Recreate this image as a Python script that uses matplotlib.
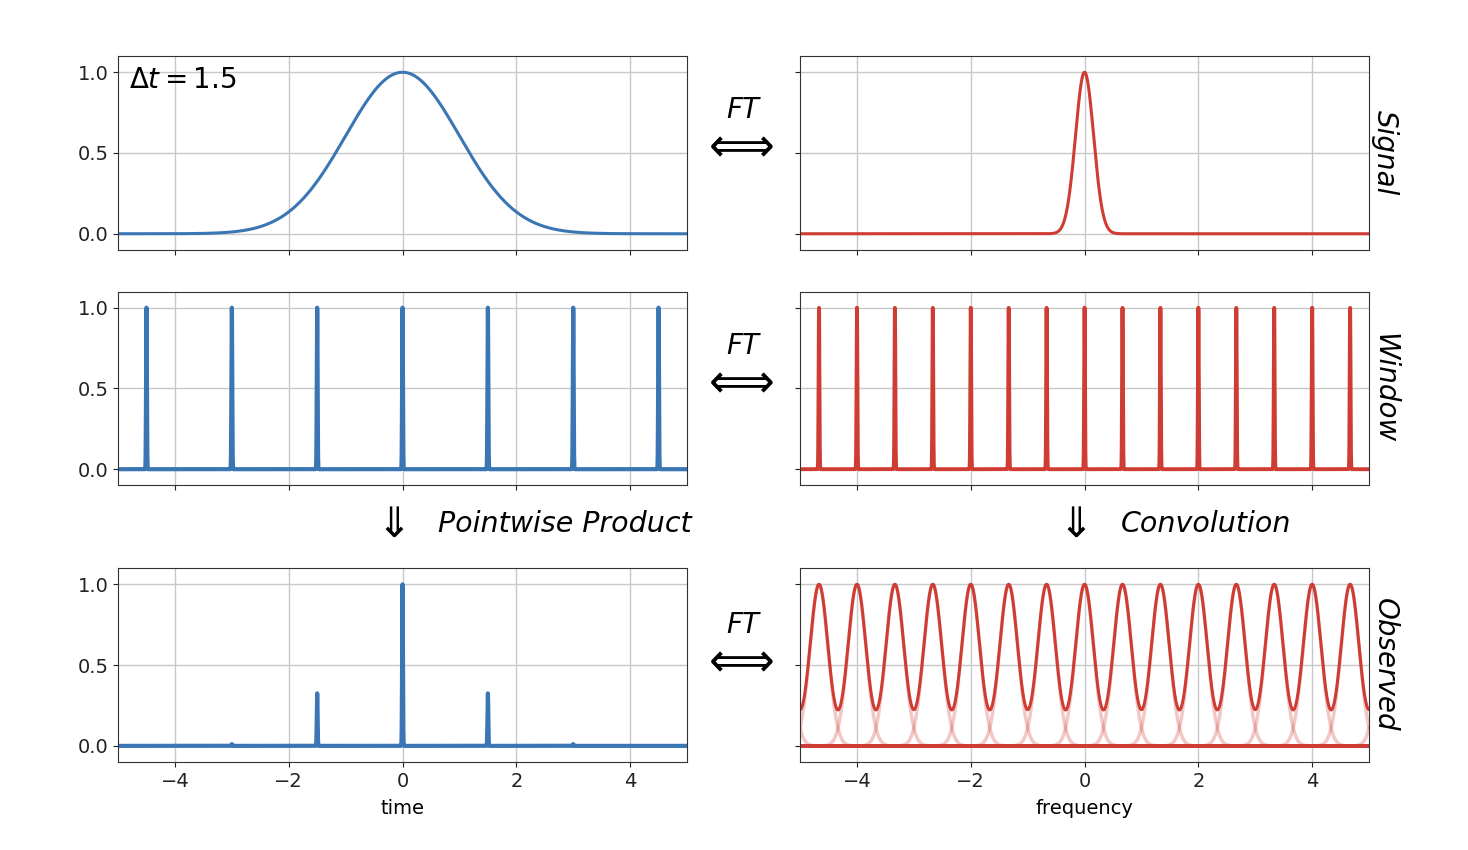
import numpy as np
import matplotlib
matplotlib.use("Agg")
import matplotlib.pyplot as plt

# values
delta_t = 1.5
signal_sigma = 1.0                      # width of the time-domain gaussian
freq_sigma = 1 / (2 * np.pi * signal_sigma)
spike_sigma = 0.007                     # drawn width of a "delta" spike

window_times = [-4.5, -3.0, -1.5, 0.0, 1.5, 3.0, 4.5]
observed_heights = [0.0, 0.011, 0.325, 1.0, 0.325, 0.011, 0.0]
window_freqs = [-4.667, -4.0, -3.333, -2.667, -2.0, -1.333, -0.667, 0.0,
                0.667, 1.333, 2.0, 2.667, 3.333, 4.0, 4.667]
# copies of the spectrum used for the convolution (includes ones just off-screen)
conv_freqs = [-6.0, -5.333] + window_freqs + [5.333, 6.0]

row_labels = ["Signal", "Window", "Observed"]

blue = "#3a76b4"
red = "#cf3c34"


def bump(x, center, sigma):
    return np.exp(-0.5 * ((x - center) / sigma) ** 2)


x = np.linspace(-5, 5, 6001)

fig = plt.figure(figsize=(14.68, 8.5), dpi=100)
lefts = [0.0804, 0.545]
bottoms = [0.706, 0.429, 0.1035]
w, h = 0.3876, 0.228

axes = [[fig.add_axes([l, b, w, h]) for l in lefts] for b in bottoms]

# row 1: signal
axes[0][0].plot(x, bump(x, 0, signal_sigma), color=blue, lw=2.2)
axes[0][1].plot(x, bump(x, 0, freq_sigma), color=red, lw=2.2)

# row 2: window
win_t = sum(bump(x, t, spike_sigma) for t in window_times)
win_f = sum(bump(x, f, spike_sigma) for f in window_freqs)
axes[1][0].plot(x, win_t, color=blue, lw=3)
axes[1][1].plot(x, win_f, color=red, lw=2.8)

# row 3: observed
obs_t = sum(hh * bump(x, t, spike_sigma)
            for t, hh in zip([-4.5] + window_times[1:], observed_heights))
axes[2][0].plot(x, obs_t, color=blue, lw=3)
total = np.zeros_like(x)
for f in conv_freqs:
    g = bump(x, f, freq_sigma)
    total += g
    axes[2][1].plot(x, g, color=red, lw=2.5, alpha=0.28)
axes[2][1].plot(x, total, color=red, lw=2.2)

for i, row in enumerate(axes):
    for j, ax in enumerate(row):
        ax.set_xlim(-5, 5)
        ax.set_ylim(-0.1, 1.1)
        ax.set_xticks([-4, -2, 0, 2, 4])
        ax.set_yticks([0, 0.5, 1.0])
        ax.grid(True, color="#c8c8c8", lw=1)
        ax.tick_params(labelsize=14, colors="#222222")
        for s in ax.spines.values():
            s.set_color("#333333")
        if i < 2:
            ax.tick_params(labelbottom=False)
        if j == 1:
            ax.tick_params(labelleft=False)
            ax.text(1.003, 0.5, row_labels[i], transform=ax.transAxes,
                    rotation=-90, fontsize=20, style="italic",
                    ha="left", va="center")

axes[2][0].set_xlabel("time", fontsize=14, labelpad=6)
axes[2][1].set_xlabel("frequency", fontsize=14, labelpad=6)

axes[0][0].text(0.02, 0.95, r"$\Delta t = 1.5$", transform=axes[0][0].transAxes,
                fontsize=20, ha="left", va="top")

# FT arrows between the columns
for ypos_ft, ypos_arr in [(0.871, 0.827), (0.593, 0.549), (0.265, 0.221)]:
    fig.text(0.506, ypos_ft, "FT", fontsize=20, style="italic",
             ha="center", va="center")
    fig.text(0.5025, ypos_arr, r"$\Longleftrightarrow$", fontsize=33,
             ha="center", va="center")

fig.text(0.263, 0.383, r"$\Downarrow$", fontsize=30, ha="center", va="center")
fig.text(0.2985, 0.383, "Pointwise Product", fontsize=20.5, style="italic",
         ha="left", va="center")
fig.text(0.728, 0.383, r"$\Downarrow$", fontsize=30, ha="center", va="center")
fig.text(0.7635, 0.383, "Convolution", fontsize=20.5, style="italic",
         ha="left", va="center")

fig.savefig("out.png", dpi=100)
